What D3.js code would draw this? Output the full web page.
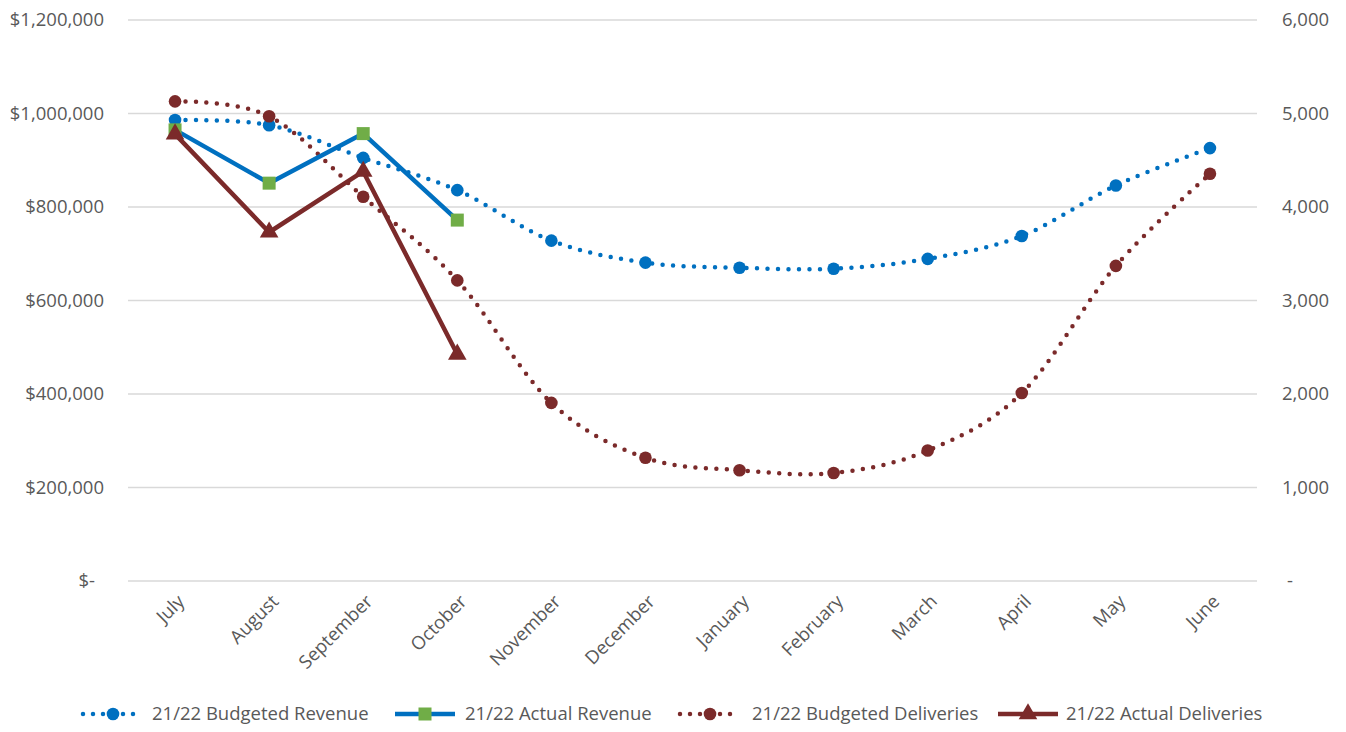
<!DOCTYPE html>
<html><head><meta charset="utf-8">
<script src="https://cdn.jsdelivr.net/npm/d3@7"></script>
<style>
html,body{margin:0;padding:0;background:#fff;}
svg{display:block;}
text{font-family:"Open Sans",sans-serif;fill:#595959;}
</style></head>
<body><svg id="c" width="1346" height="732"></svg>
<script>
const months = ["July","August","September","October","November","December","January","February","March","April","May","June"];
const budgetedRevenue = [986000,975000,905000,836000,728000,681000,670000,668000,689000,738000,846000,926000];
const actualRevenue = [965000,851000,957000,772000];
const budgetedDeliveries = [5130,4970,4110,3215,1905,1318,1185,1155,1395,2010,3370,4355];
const actualDeliveries = [4780,3730,4380,2425];
const leftTicks = [0,200000,400000,600000,800000,1000000,1200000];
const rightTicks = [0,1000,2000,3000,4000,5000,6000];

const BLUE="#0070c0", RED="#7b2a2a", GREEN="#70ad47";
const svg = d3.select("#c");
const x = d3.scaleBand().domain(months).range([128,1257]);
const cx = m => x(m)+x.bandwidth()/2;
const yL = d3.scaleLinear().domain([0,1200000]).range([581,20]);
const yR = d3.scaleLinear().domain([0,6000]).range([581,20]);

// gridlines
svg.append("g").selectAll("line").data(leftTicks).join("line")
  .attr("x1",128).attr("x2",1257).attr("y1",d=>yL(d)).attr("y2",d=>yL(d))
  .attr("stroke","#d9d9d9").attr("stroke-width",1.5);

// left axis
const fmtL = d => d===0 ? "$-" : "$"+d3.format(",")(d);
const axL = d3.axisLeft(yL).tickValues(leftTicks).tickFormat(fmtL).tickSize(0).tickPadding(0);
const gL = svg.append("g").attr("transform","translate(104,0)").call(axL);
gL.select(".domain").remove();
gL.selectAll("text").style("font-size","18.5px").attr("font-family",null).attr("fill","#595959")
  .attr("dx",d=>d===0?-9:0);

// right axis
const fmtR = d => d===0 ? "-" : d3.format(",")(d);
const axR = d3.axisRight(yR).tickValues(rightTicks).tickFormat(fmtR).tickSize(0).tickPadding(0);
const gR = svg.append("g").attr("transform","translate(1282,0)").call(axR);
gR.select(".domain").remove();
gR.selectAll("text").style("font-size","18.5px").attr("fill","#595959").attr("dx",d=>d===0?5:0);

// x axis labels
const axX = d3.axisBottom(x).tickSize(0).tickPadding(0);
const gX = svg.append("g").attr("transform","translate(0,598)").call(axX);
gX.select(".domain").remove();
gX.selectAll("text").style("font-size","18.5px").attr("fill","#595959")
  .attr("text-anchor","end").attr("dy","0.35em")
  .attr("transform","translate(6,0) rotate(-45)");

const smooth = d3.curveCardinal.tension(0);
function dotted(data, y, color){
  svg.append("path").datum(data)
    .attr("d", d3.line().x((d,i)=>cx(months[i])).y(d=>y(d)).curve(smooth))
    .attr("fill","none").attr("stroke",color).attr("stroke-width",4.5)
    .attr("stroke-linecap","round").attr("stroke-dasharray","0 10.5");
}
function solid(data, y, color){
  svg.append("path").datum(data)
    .attr("d", d3.line().x((d,i)=>cx(months[i])).y(d=>y(d)))
    .attr("fill","none").attr("stroke",color).attr("stroke-width",4.5)
    .attr("stroke-linejoin","round");
}
function circles(data,y,color){
  svg.append("g").selectAll("circle").data(data).join("circle")
    .attr("cx",(d,i)=>cx(months[i])).attr("cy",d=>y(d)).attr("r",6.3).attr("fill",color);
}
function squares(data,y,color){
  svg.append("g").selectAll("rect").data(data).join("rect")
    .attr("x",(d,i)=>cx(months[i])-6.5).attr("y",d=>y(d)-6.5).attr("width",13).attr("height",13).attr("fill",color);
}
const tri = d3.symbol().type(d3.symbolTriangle).size(150);
function triangles(data,y,color){
  svg.append("g").selectAll("path").data(data).join("path")
    .attr("d",tri).attr("transform",(d,i)=>`translate(${cx(months[i])},${y(d)})`).attr("fill",color);
}

dotted(budgetedRevenue,yL,BLUE);
dotted(budgetedDeliveries,yR,RED);
solid(actualRevenue,yL,BLUE);
solid(actualDeliveries,yR,RED);
circles(budgetedRevenue,yL,BLUE);
circles(budgetedDeliveries,yR,RED);
squares(actualRevenue,yL,GREEN);
triangles(actualDeliveries,yR,RED);

// legend
const legend = [
  {name:"21/22 Budgeted Revenue", color:BLUE, dash:true, mk:"circle", mc:BLUE, x0:83, tx:152},
  {name:"21/22 Actual Revenue", color:BLUE, dash:false, mk:"square", mc:GREEN, x0:395, tx:465},
  {name:"21/22 Budgeted Deliveries", color:RED, dash:true, mk:"circle", mc:RED, x0:680, tx:752},
  {name:"21/22 Actual Deliveries", color:RED, dash:false, mk:"tri", mc:RED, x0:998, tx:1066}
];
const ly = 714;
const lg = svg.append("g").selectAll("g").data(legend).join("g");
lg.append("line").attr("x1",d=>d.x0).attr("x2",d=>d.x0+60).attr("y1",ly).attr("y2",ly)
  .attr("stroke",d=>d.color).attr("stroke-width",4.5)
  .attr("stroke-linecap",d=>d.dash?"round":"butt")
  .attr("stroke-dasharray",d=>d.dash?"0 10":null);
lg.each(function(d){
  const g=d3.select(this), mx=d.x0+30;
  if(d.mk==="circle") g.append("circle").attr("cx",mx).attr("cy",ly).attr("r",6.3).attr("fill",d.mc);
  else if(d.mk==="square") g.append("rect").attr("x",mx-6.5).attr("y",ly-6.5).attr("width",13).attr("height",13).attr("fill",d.mc);
  else g.append("path").attr("d",tri).attr("transform",`translate(${mx},${ly})`).attr("fill",d.mc);
});
lg.append("text").attr("x",d=>d.tx).attr("y",ly).attr("dy","0.35em")
  .style("font-size","18.5px").text(d=>d.name);
</script></body></html>
